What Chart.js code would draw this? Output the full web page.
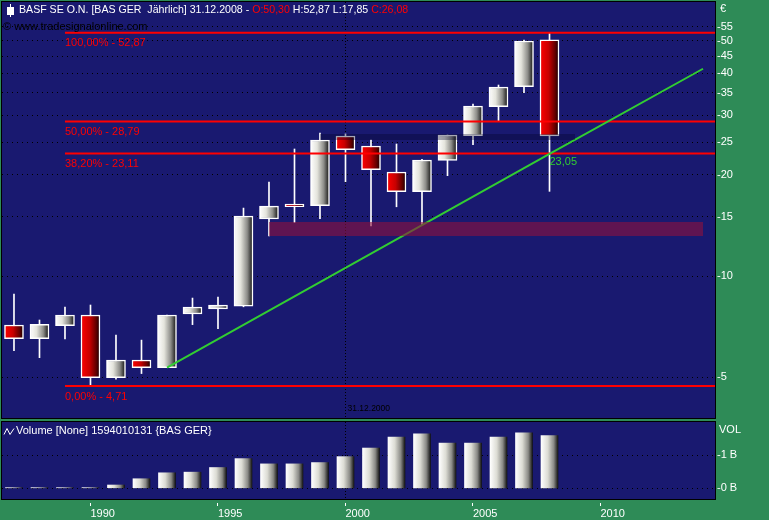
<!DOCTYPE html>
<html>
<head>
<meta charset="utf-8">
<title>BASF SE O.N. – Jahreskerzen</title>
<script src="https://cdn.jsdelivr.net/npm/chart.js@4.4.1/dist/chart.umd.min.js"></script>
<style>
  html, body { margin: 0; padding: 0; background: #2e8b57; }
  #wrap { position: relative; width: 769px; height: 520px; background: #2e8b57; overflow: hidden; }
  #main { position: absolute; left: 0; top: 0; }
  #vol  { position: absolute; left: 0; top: 420px; }
</style>
</head>
<body>
<div id="wrap">
  <canvas id="main" width="769" height="420"></canvas>
  <canvas id="vol" width="769" height="100"></canvas>
</div>
<script>
// ---- yearly candles, BASF (BAS GER) ----
const years  = [1987, 1988, 1989, 1990, 1991, 1992, 1993, 1994, 1995, 1996, 1997,
                1998, 1999, 2000, 2001, 2002, 2003, 2004, 2005, 2006, 2007, 2008];
const opens  = [7.15, 6.51, 7.12, 7.66, 4.99, 5.63, 5.34, 7.71, 7.98, 8.14, 14.77,
                16.37, 16.18, 26.06, 24.34, 20.38, 17.81, 22.04, 26.12, 31.85, 36.52, 50.30];
const highs  = [8.84, 7.40, 8.09, 8.20, 6.68, 6.45, 7.66, 8.60, 8.66, 15.92, 19.02,
                23.85, 26.61, 26.42, 25.37, 24.68, 22.23, 26.24, 32.44, 36.95, 50.27, 52.87];
const lows   = [6.00, 5.72, 6.50, 4.71, 4.94, 5.13, 5.34, 7.17, 6.97, 8.10, 13.15,
                14.42, 14.80, 19.06, 14.08, 16.06, 14.18, 19.87, 24.56, 28.88, 35.05, 17.85];
const closes = [6.51, 7.19, 7.66, 4.99, 5.63, 5.34, 7.66, 8.09, 8.20, 15.08, 16.14,
                16.06, 25.37, 23.73, 20.70, 17.81, 22.12, 26.24, 32.00, 36.45, 49.93, 26.08];
const volumes = [20000000, 20000000, 20000000, 20000000, 100000000, 290000000, 470000000,
                 490000000, 630000000, 900000000, 740000000, 740000000, 780000000, 960000000,
                 1220000000, 1550000000, 1650000000, 1370000000, 1370000000, 1550000000,
                 1680000000, 1594010131];

// axis ticks
const priceTicks = [5, 10, 15, 20, 25, 30, 35, 40, 45, 50, 55];
const volumeTicks = [0, 1000000000];
const yearTicks = [1990, 1995, 2000, 2005, 2010];

// Fibonacci retracement levels (percent, price)
const fibLevels = [100, 50, 38.2, 0];
const fibPrices = [52.87, 28.79, 23.11, 4.71];
const fibStartYear = 1989;

// trend line through the 1993 low
const trendYears  = [1993, 2008, 2014.02];
const trendPrices = [5.34, 23.05, 41.3];

// support zone and resistance zone
const supportYears  = [1997, 2014.02];
const supportPrices = [13.15, 14.47];
const resistYears   = [1999, 2009];
const resistPrices  = [25.36, 26.42];

// crosshair date
const cursorYear = 2000;
const cursorLabel = '31.12.2000';

// visible ranges
const xMin = 1986.53, xMax = 2014.49;
const priceMin = 3.785, priceMax = 65.21;
const volMin = -445000000, volMax = 2009000000;

// ---- look ----
const FONT = '"Liberation Sans", Arial, sans-serif';
const NAVY = '#191970';
const fmt = v => v.toFixed(2).replace('.', ',');

function bodyFill(c, upStops, downStops, half) {
  const i = c.dataIndex;
  const down = downStops && i !== undefined && closes[i] < opens[i];
  const stops = down ? downStops : upStops;
  const xs = c.chart.scales && c.chart.scales.x;
  const px = (xs && i !== undefined) ? xs.getPixelForValue(years[i]) : NaN;
  if (!isFinite(px)) return stops[1][1];
  const g = c.chart.ctx.createLinearGradient(px - half, 0, px + half, 0);
  stops.forEach(s => g.addColorStop(s[0], s[1]));
  return g;
}
const whiteStops = [[0, '#ffffff'], [0.35, '#e4e4dc'], [0.7, '#8c8c88'], [1, '#0c0c0c']];
const redStops   = [[0, '#ff0000'], [0.45, '#c80000'], [0.8, '#600000'], [1, '#140000']];
const volStops   = [[0, '#ffffff'], [0.4, '#dcdcd4'], [0.75, '#8a8a86'], [1, '#141414']];

// panel background, border and crosshair line
const panelPlugin = {
  id: 'panel',
  beforeDraw(chart, args, opts) {
    const { ctx, chartArea: a } = chart;
    const bottom = a.bottom - (opts.bottomInset || 0);
    ctx.save();
    ctx.fillStyle = NAVY;
    ctx.fillRect(a.left, a.top, a.right - a.left, bottom - a.top);
    ctx.restore();
  },
  beforeDatasetsDraw(chart, args, opts) {
    const { ctx, chartArea: a } = chart;
    const bottom = a.bottom - (opts.bottomInset || 0);
    const x = Math.floor(chart.scales.x.getPixelForValue(cursorYear)) + 0.5;
    ctx.save();
    ctx.strokeStyle = '#000000';
    ctx.lineWidth = 1;
    ctx.setLineDash([1, 2]);
    ctx.beginPath();
    ctx.moveTo(x, a.top);
    ctx.lineTo(x, bottom);
    ctx.stroke();
    ctx.restore();
  },
  afterDraw(chart, args, opts) {
    const { ctx, chartArea: a } = chart;
    const bottom = a.bottom - (opts.bottomInset || 0);
    ctx.save();
    ctx.strokeStyle = '#000000';
    ctx.lineWidth = 1;
    ctx.strokeRect(a.left - 0.5, a.top - 0.5, a.right - a.left + 1, bottom - a.top + 1);
    ctx.restore();
  }
};

// texts of the price panel
const priceTextPlugin = {
  id: 'priceText',
  afterDraw(chart) {
    const { ctx, chartArea: a } = chart;
    const xs = chart.scales.x, ys = chart.scales.y;
    const last = years.length - 1;
    ctx.save();
    ctx.textBaseline = 'middle';
    ctx.textAlign = 'left';

    // candle glyph in front of the header
    ctx.fillStyle = '#ffffff';
    ctx.fillRect(10, 4, 1, 13);
    ctx.fillRect(7, 7, 7, 8);

    // header line
    ctx.font = '10.6px ' + FONT;
    const parts = [
      ['BASF SE O.N. [BAS GER  J\u00e4hrlich] 31.12.' + years[last] + ' - ', '#ffffff'],
      ['O:' + fmt(opens[last]), '#ff0000'],
      [' H:' + fmt(highs[last]) + ' L:' + fmt(lows[last]) + ' ', '#ffffff'],
      ['C:' + fmt(closes[last]), '#ff0000']
    ];
    let x = 19;
    parts.forEach(p => {
      ctx.fillStyle = p[1];
      ctx.fillText(p[0], x, 10.5);
      x += ctx.measureText(p[0]).width;
    });

    ctx.font = '11px ' + FONT;
    ctx.fillStyle = '#000000';
    ctx.fillText('\u00a9 www.tradesignalonline.com', 3, 27);

    // currency above the price axis
    ctx.fillStyle = '#ffffff';
    ctx.fillText('\u20ac', 720, 9);

    // Fibonacci captions
    ctx.fillStyle = '#ff0000';
    fibLevels.forEach((lvl, i) => {
      const px = xs.getPixelForValue(fibStartYear);
      const py = ys.getPixelForValue(fibPrices[i]);
      ctx.fillText(fmt(lvl) + '% - ' + fmt(fibPrices[i]), px, py + 10.5);
    });

    // trend line value at the last candle
    ctx.fillStyle = '#32cd32';
    ctx.fillText(fmt(trendPrices[1]), xs.getPixelForValue(trendYears[1]), ys.getPixelForValue(trendPrices[1]) + 8);

    // crosshair date
    ctx.font = '8.5px ' + FONT;
    ctx.fillStyle = '#000000';
    ctx.fillText(cursorLabel, xs.getPixelForValue(cursorYear) + 2, a.bottom - 9);
    ctx.restore();
  }
};

// texts of the volume panel
const volumeTextPlugin = {
  id: 'volumeText',
  afterDraw(chart) {
    const { ctx } = chart;
    ctx.save();
    ctx.strokeStyle = '#ffffff';
    ctx.lineWidth = 1;
    ctx.beginPath();
    ctx.moveTo(4, 14.5); ctx.lineTo(7, 8.5); ctx.lineTo(10, 14.5); ctx.lineTo(14, 8.5);
    ctx.stroke();
    ctx.fillStyle = '#ffffff';
    ctx.textBaseline = 'middle';
    ctx.font = '11px ' + FONT;
    ctx.fillText('Volume [None] ' + volumes[volumes.length - 1] + ' {BAS GER}', 16, 11);
    ctx.fillText('VOL', 719, 10);
    ctx.restore();
  }
};

const lineBase = { type: 'line', pointRadius: 0, pointHoverRadius: 0, tension: 0 };

const datasets = [
  { // wicks
    label: 'Docht',
    data: years.map((y, i) => ({ x: y, y: [lows[i], highs[i]] })),
    backgroundColor: '#ffffff',
    barThickness: 1,
    grouped: false,
    order: 7
  },
  { // bodies
    label: 'Kerze',
    data: years.map((y, i) => ({ x: y, y: [opens[i], closes[i]] })),
    backgroundColor: c => bodyFill(c, whiteStops, redStops, 9.5),
    borderColor: '#ffffff',
    borderWidth: 1.5,
    borderSkipped: false,
    barThickness: 19,
    grouped: false,
    order: 6
  }
];
fibPrices.forEach(v => datasets.push(Object.assign({}, lineBase, {
  label: 'Fib ' + v,
  data: [{ x: fibStartYear, y: v }, { x: xMax, y: v }],
  borderColor: '#ff0000',
  borderWidth: 2,
  order: 5
})));
datasets.push(Object.assign({}, lineBase, {
  label: 'Trend',
  data: trendYears.map((y, i) => ({ x: y, y: trendPrices[i] })),
  borderColor: '#32cd32',
  borderWidth: 2,
  order: 4
}));
// support zone (filled between upper and lower edge)
datasets.push(Object.assign({}, lineBase, {
  label: 'Zone oben',
  data: supportYears.map(y => ({ x: y, y: supportPrices[1] })),
  borderColor: 'transparent', borderWidth: 0,
  fill: '+1',
  backgroundColor: 'rgba(142, 16, 60, 0.6)',
  order: 2
}));
datasets.push(Object.assign({}, lineBase, {
  label: 'Zone unten',
  data: supportYears.map(y => ({ x: y, y: supportPrices[0] })),
  borderColor: 'transparent', borderWidth: 0, fill: false,
  order: 3
}));
// resistance zone
datasets.push(Object.assign({}, lineBase, {
  label: 'Widerstand oben',
  data: resistYears.map(y => ({ x: y, y: resistPrices[1] })),
  borderColor: 'transparent', borderWidth: 0,
  fill: '+1',
  backgroundColor: 'rgba(4, 4, 40, 0.35)',
  order: 0
}));
datasets.push(Object.assign({}, lineBase, {
  label: 'Widerstand unten',
  data: resistYears.map(y => ({ x: y, y: resistPrices[0] })),
  borderColor: 'transparent', borderWidth: 0, fill: false,
  order: 1
}));

const priceChart = new Chart(document.getElementById('main'), {
  type: 'bar',
  data: { datasets },
  options: {
    responsive: false,
    animation: false,
    devicePixelRatio: 1,
    events: [],
    layout: { padding: { left: 2, top: 2, right: 0, bottom: 2 } },
    plugins: {
      legend: { display: false },
      tooltip: { enabled: false },
      panel: { bottomInset: 0 }
    },
    scales: {
      x: {
        type: 'linear', min: xMin, max: xMax, bounds: 'data',
        offset: false, display: false,
        grid: { offset: false }
      },
      y: {
        type: 'logarithmic', position: 'right',
        min: priceMin, max: priceMax, bounds: 'data',
        afterBuildTicks: s => { s.ticks = priceTicks.map(v => ({ value: v })); },
        afterFit: s => { s.width = 54; s.paddingTop = 0; s.paddingBottom = 0; },
        ticks: {
          autoSkip: false, color: '#ffffff', padding: 2,
          font: { family: FONT, size: 11 },
          callback: v => '-' + v
        },
        grid: { color: '#000000', lineWidth: 1, drawTicks: false },
        border: { display: false, dash: [1, 4] }
      }
    }
  },
  plugins: [panelPlugin, priceTextPlugin]
});

const volumeChart = new Chart(document.getElementById('vol'), {
  type: 'bar',
  data: {
    datasets: [{
      label: 'Volume',
      data: years.map((y, i) => ({ x: y, y: volumes[i] })),
      backgroundColor: c => bodyFill(c, volStops, null, 8.5),
      borderWidth: 0,
      barThickness: 17,
      grouped: false
    }]
  },
  options: {
    responsive: false,
    animation: false,
    devicePixelRatio: 1,
    events: [],
    layout: { padding: { left: 2, top: 2, right: 0, bottom: 0 } },
    plugins: {
      legend: { display: false },
      tooltip: { enabled: false },
      panel: { bottomInset: 4 }
    },
    scales: {
      x: {
        type: 'linear', min: xMin, max: xMax, bounds: 'data', offset: false,
        afterBuildTicks: s => { s.ticks = yearTicks.map(v => ({ value: v })); },
        afterFit: s => { s.height = 17; s.paddingLeft = 0; s.paddingRight = 0; },
        ticks: {
          autoSkip: false, maxRotation: 0, align: 'start', color: '#ffffff', padding: 1,
          font: { family: FONT, size: 11 },
          callback: v => String(v)
        },
        grid: { offset: false, drawOnChartArea: false, drawTicks: true, tickLength: 3, color: '#ffffff', tickColor: '#ffffff' },
        border: { display: false }
      },
      y: {
        type: 'linear', position: 'right', min: volMin, max: volMax, bounds: 'data',
        afterBuildTicks: s => { s.ticks = volumeTicks.map(v => ({ value: v })); },
        afterFit: s => { s.width = 54; s.paddingTop = 0; s.paddingBottom = 0; },
        ticks: {
          autoSkip: false, color: '#ffffff', padding: 2,
          font: { family: FONT, size: 11 },
          callback: v => '-' + (v / 1000000000) + ' B'
        },
        grid: { color: '#000000', lineWidth: 1, drawTicks: false },
        border: { display: false, dash: [1, 4] }
      }
    }
  },
  plugins: [panelPlugin, volumeTextPlugin]
});

// second pass so the gradients use the laid-out x scale
priceChart.update();
volumeChart.update();
</script>
</body>
</html>
